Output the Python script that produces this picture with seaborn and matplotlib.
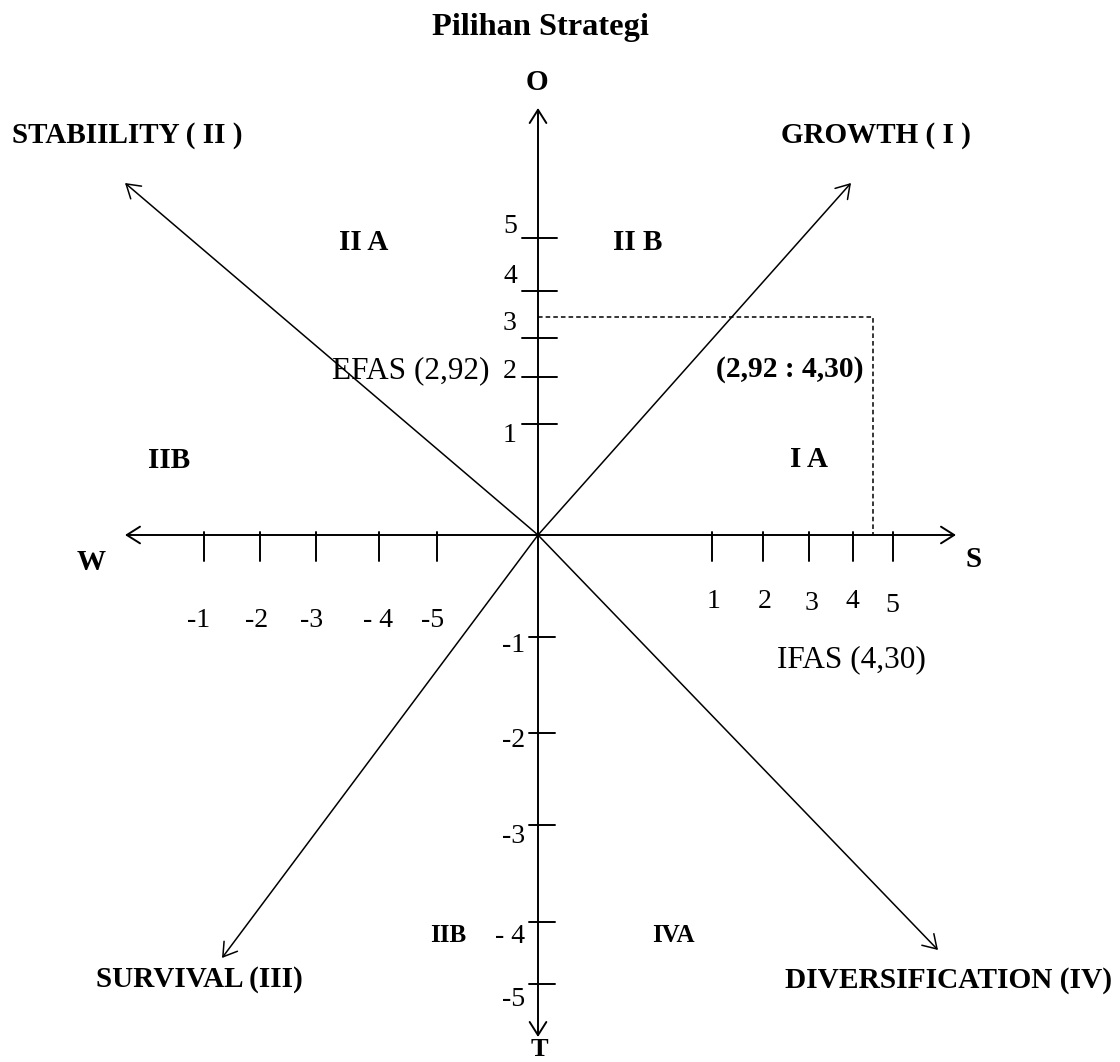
import numpy as np
import pandas as pd
import seaborn as sns
import matplotlib
matplotlib.use("Agg")
import matplotlib.pyplot as plt

# tick labels on the two axes
x_pos_labels = ["1", "2", "3", "4", "5"]
x_neg_labels = ["-1", "-2", "-3", "- 4", "-5"]
y_pos_labels = ["1", "2", "3", "4", "5"]
y_neg_labels = ["-1", "-2", "-3", "- 4", "-5"]

# scores
efas = "2,92"
ifas = "4,30"

# quadrant / direction names
directions = ["GROWTH ( I )", "STABIILITY ( II )", "SURVIVAL (III)", "DIVERSIFICATION (IV)"]
axis_names = ["O", "T", "W", "S"]
regions = ["II A", "II B", "IIB", "I A", "IIB", "IVA"]

# ---- layout (pixels of the drawing, y downward) ----
ORIGIN = (538, 535)
x_pos_px = [712, 763, 809, 853, 893]
x_neg_px = [204, 260, 316, 379, 437]
y_pos_px = [424, 377, 338, 291, 238]
y_neg_px = [637, 733, 825, 922, 984]
dir_tips = [(851, 183), (125, 183), (222, 958), (938, 950)]
point_px = (873, 317)

sns.set_theme(style="white")
plt.rcParams["font.family"] = ["Liberation Serif", "DejaVu Serif"]
plt.rcParams["text.color"] = "black"

fig = plt.figure(figsize=(11.2, 10.62), dpi=100)
ax = fig.add_axes([0, 0, 1, 1])
ax.set_xlim(0, 1120)
ax.set_ylim(1062, 0)
ax.axis("off")

ox, oy = ORIGIN
arrow_kw = dict(arrowstyle="->,head_length=0.95,head_width=0.6",
                color="black", mutation_scale=10, shrinkA=0, shrinkB=0)

# main axes (double headed)
for end in [(538, 108), (538, 1037), (125, 535), (956, 535)]:
    ax.annotate("", xy=end, xytext=(ox, oy),
                arrowprops=dict(arrow_kw, lw=1.4))

# diagonal strategy arrows
for tip in dir_tips:
    ax.annotate("", xy=tip, xytext=(ox, oy),
                arrowprops=dict(arrow_kw, lw=1.1))

# tick marks
for px in x_pos_px + x_neg_px:
    ax.plot([px, px], [532, 561], color="black", lw=1.4)
for py in y_pos_px:
    ax.plot([522, 557], [py, py], color="black", lw=1.4)
for py in y_neg_px:
    ax.plot([529, 555], [py, py], color="black", lw=1.4)

# dashed guide to the position
guide = pd.DataFrame({"x": [ox, point_px[0], point_px[0]],
                      "y": [point_px[1], point_px[1], oy]})
sns.lineplot(data=guide, x="x", y="y", sort=False, estimator=None,
             color="black", lw=1.1, linestyle=(0, (3, 2)), ax=ax)
ax.set_xlabel("")
ax.set_ylabel("")

bold = dict(fontsize=21, fontweight="bold", va="baseline")
num = dict(fontsize=20, va="baseline")
norm = dict(fontsize=22.5, va="baseline")

ax.text(540, 35, "Pilihan Strategi", ha="center", fontsize=23.3,
        fontweight="bold", va="baseline")
ax.text(537, 90, axis_names[0], ha="center", **bold)
ax.text(539, 1056, axis_names[1], ha="center", fontsize=19, fontweight="bold", va="baseline")
ax.text(91, 570, axis_names[2], ha="center", **bold)
ax.text(974, 567, axis_names[3], ha="center", **bold)

ax.text(781, 143, directions[0], ha="left", **bold)
ax.text(12, 143, directions[1], ha="left", **bold)
ax.text(96, 987, directions[2], ha="left", **bold)
ax.text(785, 988, directions[3], ha="left", fontsize=21.2, fontweight="bold", va="baseline")

ax.text(339, 250, regions[0], ha="left", **bold)
ax.text(613, 250, regions[1], ha="left", **bold)
ax.text(148, 468, regions[2], ha="left", **bold)
ax.text(790, 467, regions[3], ha="left", **bold)
ax.text(430, 942, regions[4], ha="left", fontsize=18, fontweight="bold", va="baseline")
ax.text(652, 942, regions[5], ha="left", fontsize=18, fontweight="bold", va="baseline")

# tick labels
x_pos_lab_xy = [(714, 608), (765, 608), (812, 610), (852, 608), (892, 612)]
for lab, (tx, ty) in zip(x_pos_labels, x_pos_lab_xy):
    ax.text(tx, ty, lab, ha="center", **num)
x_neg_lab_x = [199, 257, 312, 378, 433]
for lab, tx in zip(x_neg_labels, x_neg_lab_x):
    ax.text(tx, 627, lab, ha="center", **num)
y_pos_lab_y = [442, 378, 330, 283, 233]
for lab, ty in zip(y_pos_labels, y_pos_lab_y):
    ax.text(510, ty, lab, ha="center", **num)
y_neg_lab_y = [652, 747, 843, 943, 1006]
for lab, ty in zip(y_neg_labels, y_neg_lab_y):
    ax.text(525, ty, lab, ha="right", **num)

ax.text(490, 378, f"EFAS ({efas})", ha="right", **norm)
ax.text(851, 667, f"IFAS ({ifas})", ha="center", **norm)
ax.text(716, 377, f"({efas} : {ifas})", ha="left", fontsize=21.3, fontweight="bold", va="baseline")

fig.savefig("out.png", dpi=100, facecolor="white")
